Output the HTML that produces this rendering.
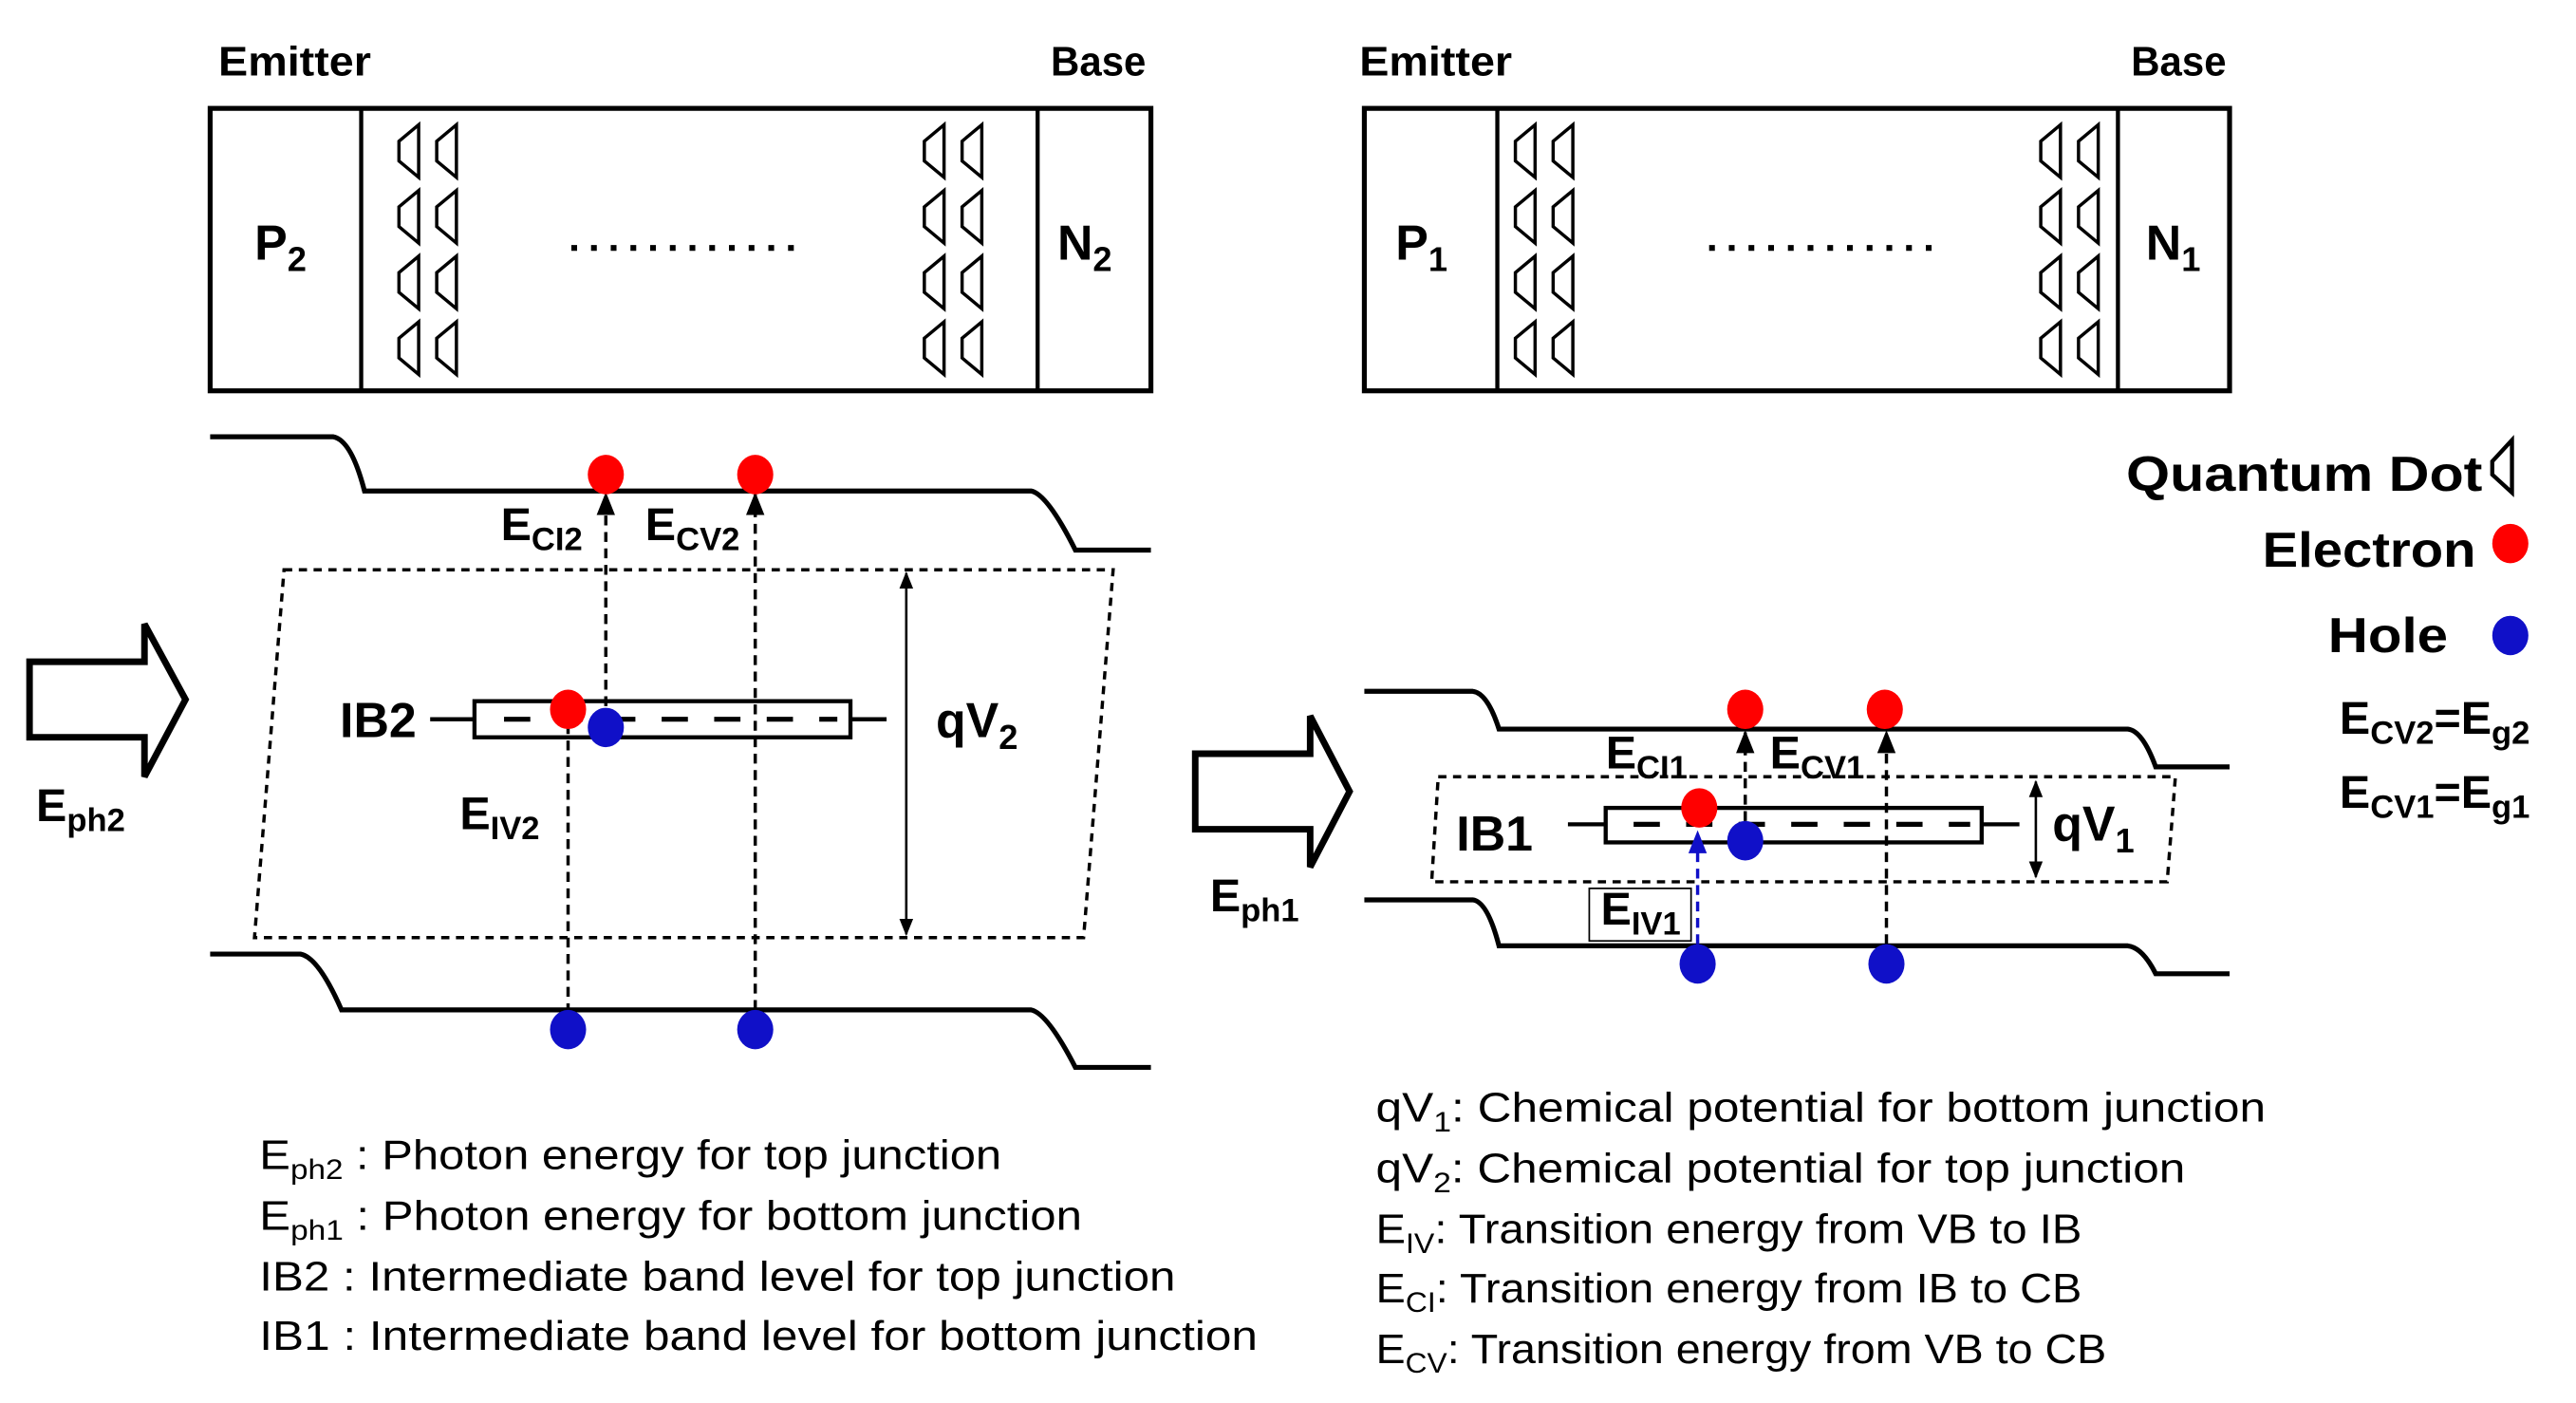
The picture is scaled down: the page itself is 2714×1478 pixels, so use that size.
<!DOCTYPE html>
<html><head><meta charset="utf-8"><style>
html,body{margin:0;padding:0;background:#fff}
svg{display:block}
text{font-family:"Liberation Sans Narrow","Liberation Sans",sans-serif;fill:#000}
.b{font-weight:bold}
</style></head><body>
<svg width="2714" height="1478" viewBox="0 0 1569 854.4" preserveAspectRatio="none" xmlns="http://www.w3.org/2000/svg">
<defs>
<path id="qd" d="M12 0 L0 10 L0 22 L12 32 Z" fill="none" stroke="#000" stroke-width="2"/>
<marker id="ah" viewBox="0 0 10 10" refX="9" refY="5" markerWidth="7" markerHeight="7" orient="auto-start-reverse"><path d="M0 1 L10 5 L0 9 Z" fill="#000"/></marker>
<marker id="ahb" viewBox="0 0 10 10" refX="9" refY="5" markerWidth="7" markerHeight="7" orient="auto"><path d="M0 1 L10 5 L0 9 Z" fill="#1010c8"/></marker>
</defs>

<!-- Top-left box -->
<text x="133" y="46" class="b" font-size="25" textLength="93" lengthAdjust="spacingAndGlyphs">Emitter</text>
<text x="640" y="46" class="b" font-size="25" textLength="58" lengthAdjust="spacingAndGlyphs">Base</text>
<rect x="128" y="66" width="573" height="172" fill="none" stroke="#000" stroke-width="3"/>
<line x1="220" y1="66" x2="220" y2="238" stroke="#000" stroke-width="2.5"/>
<line x1="632" y1="66" x2="632" y2="238" stroke="#000" stroke-width="2.5"/>
<text x="155" y="158" class="b" font-size="30">P<tspan font-size="21" dy="7">2</tspan></text>
<text x="644" y="158" class="b" font-size="30">N<tspan font-size="21" dy="7">2</tspan></text>
<line x1="348" y1="151" x2="492" y2="151" stroke="#000" stroke-width="3.5" stroke-dasharray="3.5 8.5"/>
<g>
<use href="#qd" x="243" y="76"/><use href="#qd" x="266" y="76"/>
<use href="#qd" x="243" y="116"/><use href="#qd" x="266" y="116"/>
<use href="#qd" x="243" y="156"/><use href="#qd" x="266" y="156"/>
<use href="#qd" x="243" y="196"/><use href="#qd" x="266" y="196"/>
<use href="#qd" x="563" y="76"/><use href="#qd" x="586" y="76"/>
<use href="#qd" x="563" y="116"/><use href="#qd" x="586" y="116"/>
<use href="#qd" x="563" y="156"/><use href="#qd" x="586" y="156"/>
<use href="#qd" x="563" y="196"/><use href="#qd" x="586" y="196"/>
</g>

<!-- Top-right box -->
<text x="828" y="46" class="b" font-size="25" textLength="93" lengthAdjust="spacingAndGlyphs">Emitter</text>
<text x="1298" y="46" class="b" font-size="25" textLength="58" lengthAdjust="spacingAndGlyphs">Base</text>
<rect x="831" y="66" width="527" height="172" fill="none" stroke="#000" stroke-width="3"/>
<line x1="912" y1="66" x2="912" y2="238" stroke="#000" stroke-width="2.5"/>
<line x1="1290" y1="66" x2="1290" y2="238" stroke="#000" stroke-width="2.5"/>
<text x="850" y="158" class="b" font-size="30">P<tspan font-size="21" dy="7">1</tspan></text>
<text x="1307" y="158" class="b" font-size="30">N<tspan font-size="21" dy="7">1</tspan></text>
<line x1="1041" y1="151" x2="1185" y2="151" stroke="#000" stroke-width="3.5" stroke-dasharray="3.5 8.5"/>
<g>
<use href="#qd" x="923" y="76"/><use href="#qd" x="946" y="76"/>
<use href="#qd" x="923" y="116"/><use href="#qd" x="946" y="116"/>
<use href="#qd" x="923" y="156"/><use href="#qd" x="946" y="156"/>
<use href="#qd" x="923" y="196"/><use href="#qd" x="946" y="196"/>
<use href="#qd" x="1243" y="76"/><use href="#qd" x="1266" y="76"/>
<use href="#qd" x="1243" y="116"/><use href="#qd" x="1266" y="116"/>
<use href="#qd" x="1243" y="156"/><use href="#qd" x="1266" y="156"/>
<use href="#qd" x="1243" y="196"/><use href="#qd" x="1266" y="196"/>
</g>

<!-- Left band diagram -->
<path d="M128 266 L203 266 Q214 268 222 299 L628 299 Q638 301 655 335 L701 335" fill="none" stroke="#000" stroke-width="3"/>
<path d="M128 581 L183 581 Q194 583 208 615 L628 615 Q638 617 655 650 L701 650" fill="none" stroke="#000" stroke-width="3"/>
<path d="M173 347 L678 347 L660 571 L155 571 Z" fill="none" stroke="#000" stroke-width="2" stroke-dasharray="5 4"/>
<rect x="289" y="427" width="229" height="22" fill="none" stroke="#000" stroke-width="2.5"/>
<line x1="262" y1="438" x2="289" y2="438" stroke="#000" stroke-width="2.5"/>
<line x1="518" y1="438" x2="540" y2="438" stroke="#000" stroke-width="2.5"/>
<line x1="307" y1="438" x2="510" y2="438" stroke="#000" stroke-width="3" stroke-dasharray="16 16"/>
<line x1="369" y1="440" x2="369" y2="301" stroke="#000" stroke-width="2" stroke-dasharray="6 4" marker-end="url(#ah)"/>
<line x1="460" y1="625" x2="460" y2="301" stroke="#000" stroke-width="2" stroke-dasharray="6 4" marker-end="url(#ah)"/>
<line x1="346" y1="627" x2="346" y2="440" stroke="#000" stroke-width="2" stroke-dasharray="6 4"/>
<line x1="552" y1="349" x2="552" y2="569" stroke="#000" stroke-width="1.5" marker-start="url(#ah)" marker-end="url(#ah)"/>
<ellipse cx="369" cy="289" rx="11" ry="12" fill="#f00"/>
<ellipse cx="460" cy="289" rx="11" ry="12" fill="#f00"/>
<ellipse cx="346" cy="432" rx="11" ry="12" fill="#f00"/>
<ellipse cx="369" cy="443" rx="11" ry="12" fill="#1010c8"/>
<ellipse cx="346" cy="627" rx="11" ry="12" fill="#1010c8"/>
<ellipse cx="460" cy="627" rx="11" ry="12" fill="#1010c8"/>
<text x="207" y="449" class="b" font-size="30">IB2</text>
<text x="570" y="449" class="b" font-size="30">qV<tspan font-size="21" dy="7">2</tspan></text>
<text x="305" y="329" class="b" font-size="28">E<tspan font-size="20" dy="6">CI2</tspan></text>
<text x="393" y="329" class="b" font-size="28">E<tspan font-size="20" dy="6">CV2</tspan></text>
<text x="280" y="505" class="b" font-size="28">E<tspan font-size="20" dy="6">IV2</tspan></text>
<path d="M18 403 L88 403 L88 380 L113 426 L88 473 L88 449 L18 449 Z" fill="#fff" stroke="#000" stroke-width="4" stroke-linejoin="miter"/>
<text x="22" y="500" class="b" font-size="28">E<tspan font-size="20" dy="6">ph2</tspan></text>

<!-- Right band diagram -->
<path d="M831 421 L897 421 Q906 422 913 444 L1296 444 Q1305 445 1313 467 L1358 467" fill="none" stroke="#000" stroke-width="3"/>
<path d="M831 548 L897 548 Q906 549 913 576 L1296 576 Q1305 577 1313 593 L1358 593" fill="none" stroke="#000" stroke-width="3"/>
<path d="M876 473 L1325 473 L1320 537 L872 537 Z" fill="none" stroke="#000" stroke-width="2" stroke-dasharray="5 4"/>
<rect x="978" y="492" width="229" height="21" fill="none" stroke="#000" stroke-width="2.5"/>
<line x1="955" y1="502" x2="978" y2="502" stroke="#000" stroke-width="2.5"/>
<line x1="1207" y1="502" x2="1230" y2="502" stroke="#000" stroke-width="2.5"/>
<line x1="995" y1="502" x2="1200" y2="502" stroke="#000" stroke-width="3" stroke-dasharray="16 16"/>
<line x1="1240" y1="476" x2="1240" y2="534" stroke="#000" stroke-width="1.5" marker-start="url(#ah)" marker-end="url(#ah)"/>
<line x1="1063" y1="510" x2="1063" y2="446" stroke="#000" stroke-width="2" stroke-dasharray="6 4" marker-end="url(#ah)"/>
<line x1="1149" y1="585" x2="1149" y2="446" stroke="#000" stroke-width="2" stroke-dasharray="6 4" marker-end="url(#ah)"/>
<line x1="1034" y1="585" x2="1034" y2="507" stroke="#1010c8" stroke-width="2" stroke-dasharray="6 4" marker-end="url(#ahb)"/>
<rect x="968" y="541" width="62" height="32" fill="none" stroke="#000" stroke-width="1"/>
<ellipse cx="1063" cy="432" rx="11" ry="12" fill="#f00"/>
<ellipse cx="1148" cy="432" rx="11" ry="12" fill="#f00"/>
<ellipse cx="1035" cy="492" rx="11" ry="12" fill="#f00"/>
<ellipse cx="1063" cy="512" rx="11" ry="12" fill="#1010c8"/>
<ellipse cx="1034" cy="587" rx="11" ry="12" fill="#1010c8"/>
<ellipse cx="1149" cy="587" rx="11" ry="12" fill="#1010c8"/>
<text x="887" y="518" class="b" font-size="30">IB1</text>
<text x="1250" y="512" class="b" font-size="30">qV<tspan font-size="21" dy="7">1</tspan></text>
<text x="978" y="468" class="b" font-size="28">E<tspan font-size="20" dy="6">CI1</tspan></text>
<text x="1078" y="468" class="b" font-size="28">E<tspan font-size="20" dy="6">CV1</tspan></text>
<text x="975" y="563" class="b" font-size="28">E<tspan font-size="20" dy="6">IV1</tspan></text>
<path d="M728 459 L798 459 L798 436 L822 482 L798 528 L798 505 L728 505 Z" fill="#fff" stroke="#000" stroke-width="4"/>
<text x="737" y="555" class="b" font-size="28">E<tspan font-size="20" dy="6">ph1</tspan></text>

<!-- Legend -->
<text x="1295" y="299" class="b" font-size="30" textLength="217" lengthAdjust="spacingAndGlyphs">Quantum Dot</text>
<path d="M1530 268 L1518 281 L1518 289 L1530 300 Z" fill="none" stroke="#000" stroke-width="2.5"/>
<text x="1378" y="345" class="b" font-size="30" textLength="130" lengthAdjust="spacingAndGlyphs">Electron</text>
<ellipse cx="1529" cy="331" rx="11" ry="12" fill="#f00"/>
<text x="1418" y="397" class="b" font-size="30" textLength="73" lengthAdjust="spacingAndGlyphs">Hole</text>
<ellipse cx="1529" cy="387" rx="11" ry="12" fill="#1010c8"/>
<text x="1425" y="447" class="b" font-size="28">E<tspan font-size="20" dy="6">CV2</tspan><tspan dy="-6">=E</tspan><tspan font-size="20" dy="6">g2</tspan></text>
<text x="1425" y="492" class="b" font-size="28">E<tspan font-size="20" dy="6">CV1</tspan><tspan dy="-6">=E</tspan><tspan font-size="20" dy="6">g1</tspan></text>

<!-- Bottom text -->
<g font-size="25">
<text x="158" y="712" textLength="452" lengthAdjust="spacingAndGlyphs">E<tspan font-size="17" dy="6">ph2</tspan><tspan dy="-6"> : Photon energy for top junction</tspan></text>
<text x="158" y="749" textLength="501" lengthAdjust="spacingAndGlyphs">E<tspan font-size="17" dy="6">ph1</tspan><tspan dy="-6"> : Photon energy for bottom junction</tspan></text>
<text x="158" y="786" textLength="558" lengthAdjust="spacingAndGlyphs">IB2 : Intermediate band level for top junction</text>
<text x="158" y="822" textLength="608" lengthAdjust="spacingAndGlyphs">IB1 : Intermediate band level for bottom junction</text>
<text x="838" y="683" textLength="542" lengthAdjust="spacingAndGlyphs">qV<tspan font-size="17" dy="6">1</tspan><tspan dy="-6">: Chemical potential for bottom junction</tspan></text>
<text x="838" y="720" textLength="493" lengthAdjust="spacingAndGlyphs">qV<tspan font-size="17" dy="6">2</tspan><tspan dy="-6">: Chemical potential for top junction</tspan></text>
<text x="838" y="757" textLength="430" lengthAdjust="spacingAndGlyphs">E<tspan font-size="17" dy="6">IV</tspan><tspan dy="-6">: Transition energy from VB to IB</tspan></text>
<text x="838" y="793" textLength="430" lengthAdjust="spacingAndGlyphs">E<tspan font-size="17" dy="6">CI</tspan><tspan dy="-6">: Transition energy from IB to CB</tspan></text>
<text x="838" y="830" textLength="445" lengthAdjust="spacingAndGlyphs">E<tspan font-size="17" dy="6">CV</tspan><tspan dy="-6">: Transition energy from VB to CB</tspan></text>
</g>
</svg>
</body></html>
